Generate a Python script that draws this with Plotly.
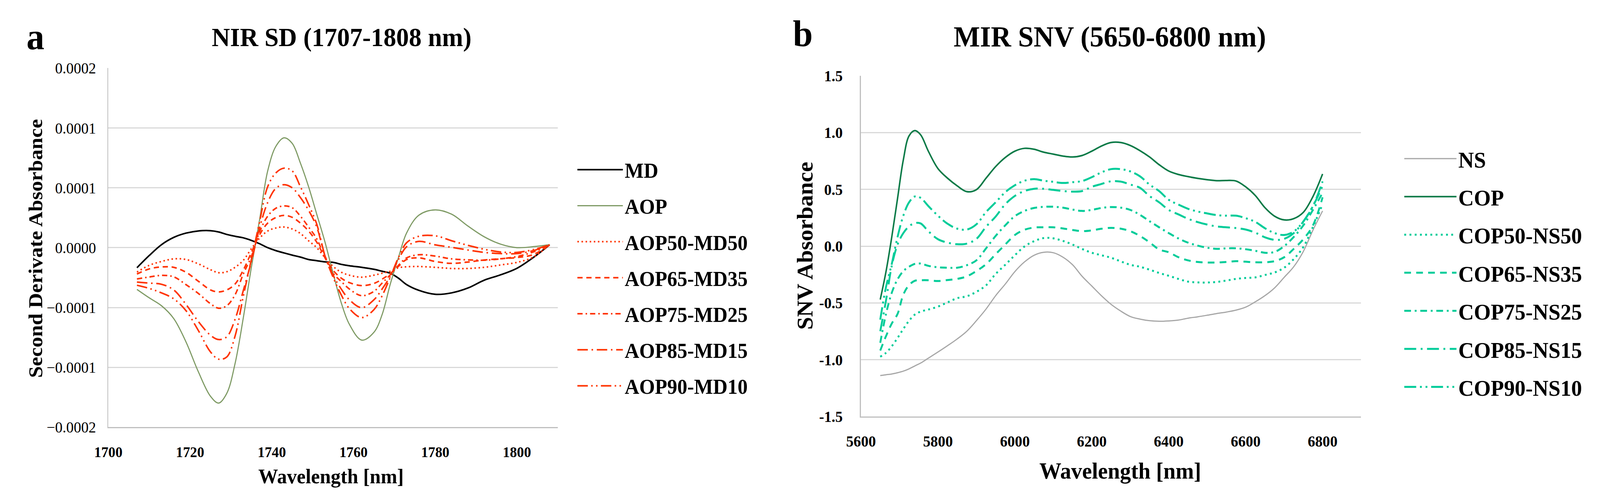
import plotly.graph_objects as go

# ---- panel a : NIR second derivative (values in absorbance units) ----
nir_nm = [1707, 1710, 1713, 1716, 1719, 1722, 1725, 1727, 1729, 1731, 1733, 1735, 1737,
          1739, 1741, 1743, 1745, 1747, 1749, 1751, 1753, 1755, 1757, 1759, 1762, 1765,
          1767, 1769, 1771, 1773, 1776, 1780, 1784, 1788, 1792, 1796, 1800, 1804, 1808]

md = [-22.4e-6, -8.8e-6, 3.3e-6, 11.4e-6, 16.2e-6, 18.6e-6, 18.9e-6, 17.5e-6, 14.7e-6, 12.7e-6,
      11.0e-6, 8.1e-6, 4.4e-6, 0.0, -3.3e-6, -5.9e-6, -8.3e-6, -10.5e-6, -13.2e-6, -14.5e-6,
      -15.8e-6, -16.4e-6, -18.6e-6, -20.2e-6, -21.9e-6, -24.1e-6, -26.3e-6, -28.5e-6, -34.0e-6,
      -41.2e-6, -47.6e-6, -52.0e-6, -50.4e-6, -45.0e-6, -36.2e-6, -30.3e-6, -23.0e-6, -11.0e-6, 3.3e-6]

aop = [-46.5e-6, -55.9e-6, -64.7e-6, -79.0e-6, -105.0e-6, -138.0e-6, -165.6e-6, -173.2e-6,
       -162.2e-6, -129.4e-6, -79.0e-6, -21.9e-6, 30.7e-6, 85.5e-6, 112.9e-6, 122.4e-6, 116.2e-6,
       94.3e-6, 68.0e-6, 37.3e-6, 6.6e-6, -28.5e-6, -61.4e-6, -85.5e-6, -103.0e-6, -94.3e-6,
       -74.6e-6, -40.6e-6, -11.0e-6, 16.4e-6, 36.2e-6, 42.1e-6, 37.3e-6, 24.1e-6, 12.1e-6, 3.9e-6,
       0.0, 1.1e-6, 3.3e-6]

aop50_md50 = [-27.2e-6, -19.7e-6, -15.4e-6, -12.5e-6, -13.2e-6, -18.0e-6, -24.6e-6, -27.9e-6,
              -26.8e-6, -21.9e-6, -14.3e-6, -1.1e-6, 10.5e-6, 18.6e-6, 21.9e-6, 23.0e-6, 20.8e-6,
              15.8e-6, 7.7e-6, 0.0, -11.0e-6, -20.8e-6, -27.4e-6, -30.7e-6, -32.9e-6, -30.7e-6,
              -28.5e-6, -26.3e-6, -22.4e-6, -21.3e-6, -21.0e-6, -21.9e-6, -23.2e-6, -23.2e-6,
              -21.9e-6, -19.3e-6, -16.4e-6, -10.5e-6, 3.3e-6]

aop65_md35 = [-29.4e-6, -23.7e-6, -21.5e-6, -21.9e-6, -27.4e-6, -37.3e-6, -47.1e-6, -49.3e-6,
              -47.1e-6, -40.6e-6, -25.2e-6, -5.5e-6, 14.3e-6, 27.4e-6, 33.6e-6, 36.0e-6, 33.8e-6,
              27.4e-6, 18.6e-6, 6.1e-6, -11.0e-6, -25.2e-6, -34.0e-6, -39.0e-6, -42.3e-6, -39.9e-6,
              -35.1e-6, -28.9e-6, -20.8e-6, -13.2e-6, -11.4e-6, -15.4e-6, -17.5e-6, -16.0e-6,
              -13.8e-6, -12.3e-6, -11.0e-6, -7.7e-6, 3.3e-6]

aop75_md25 = [-34.9e-6, -32.7e-6, -30.9e-6, -32.5e-6, -41.2e-6, -50.9e-6, -62.5e-6, -67.5e-6,
              -64.7e-6, -52.6e-6, -29.6e-6, -9.9e-6, 17.5e-6, 35.1e-6, 43.9e-6, 46.5e-6, 44.5e-6,
              35.1e-6, 23.0e-6, 9.9e-6, -11.0e-6, -28.5e-6, -37.7e-6, -46.1e-6, -53.5e-6, -48.7e-6,
              -39.5e-6, -30.3e-6, -19.7e-6, -11.4e-6, -7.9e-6, -9.4e-6, -12.5e-6, -13.6e-6,
              -14.0e-6, -12.5e-6, -9.9e-6, -4.8e-6, 3.3e-6]

aop85_md15 = [-38.4e-6, -39.5e-6, -40.8e-6, -47.1e-6, -63.2e-6, -82.2e-6, -97.6e-6, -102.4e-6,
              -99.3e-6, -80.0e-6, -48.2e-6, -15.4e-6, 21.9e-6, 50.4e-6, 66.2e-6, 70.2e-6, 66.7e-6,
              55.9e-6, 41.7e-6, 23.0e-6, -8.8e-6, -30.7e-6, -46.1e-6, -58.1e-6, -66.9e-6, -58.1e-6,
              -46.1e-6, -31.8e-6, -13.2e-6, 1.1e-6, 7.0e-6, 3.1e-6, 0.4e-6, -2.6e-6, -5.3e-6,
              -6.6e-6, -6.6e-6, -3.3e-6, 3.3e-6]

aop90_md10 = [-41.9e-6, -45.4e-6, -50.4e-6, -57.0e-6, -70.2e-6, -92.1e-6, -116.2e-6, -124.3e-6,
              -121.7e-6, -98.7e-6, -54.8e-6, -13.2e-6, 28.5e-6, 68.0e-6, 83.3e-6, 88.6e-6, 85.5e-6,
              68.0e-6, 48.2e-6, 26.3e-6, -8.8e-6, -32.9e-6, -52.6e-6, -68.0e-6, -77.9e-6, -69.1e-6,
              -53.7e-6, -32.9e-6, -11.0e-6, 5.5e-6, 12.7e-6, 13.2e-6, 7.7e-6, 2.6e-6, -1.8e-6,
              -4.8e-6, -5.3e-6, -2.2e-6, 3.3e-6]

nir_yticks = [0.0002, 0.0002 * 2 / 3, 0.0002 / 3, 0.0, -0.0002 / 3, -0.0002 * 2 / 3, -0.0002]
nir_yticktext = ["0.0002", "0.0001", "0.0001", "0.0000", "\u22120.0001", "\u22120.0001", "\u22120.0002"]

# ---- panel b : MIR SNV ----
mir_nm = [5650, 5665, 5680, 5695, 5710, 5725, 5740, 5755, 5775, 5800, 5825, 5850, 5875, 5900,
          5925, 5950, 5975, 6000, 6025, 6050, 6075, 6100, 6125, 6150, 6175, 6200, 6225, 6250,
          6275, 6300, 6325, 6350, 6375, 6400, 6425, 6450, 6475, 6500, 6525, 6550, 6575, 6600,
          6625, 6650, 6675, 6700, 6725, 6750, 6775, 6800]

ns = [-1.139, -1.132, -1.125, -1.114, -1.100, -1.080, -1.054, -1.029, -0.986, -0.932, -0.876,
      -0.817, -0.749, -0.656, -0.554, -0.436, -0.334, -0.224, -0.139, -0.080, -0.054, -0.058,
      -0.097, -0.164, -0.266, -0.351, -0.436, -0.512, -0.571, -0.619, -0.642, -0.656, -0.661,
      -0.658, -0.651, -0.634, -0.622, -0.608, -0.593, -0.580, -0.563, -0.537, -0.490, -0.436,
      -0.368, -0.275, -0.181, -0.046, 0.141, 0.310]

cop = [-0.470, -0.224, 0.081, 0.420, 0.759, 0.971, 1.017, 0.980, 0.836, 0.683, 0.598, 0.531,
       0.480, 0.497, 0.598, 0.700, 0.780, 0.836, 0.861, 0.853, 0.827, 0.810, 0.793, 0.785, 0.798,
       0.836, 0.881, 0.912, 0.912, 0.886, 0.841, 0.785, 0.717, 0.661, 0.631, 0.612, 0.597, 0.585,
       0.576, 0.578, 0.573, 0.522, 0.446, 0.339, 0.264, 0.231, 0.242, 0.298, 0.437, 0.635]

cop50_ns50 = [-0.973, -0.939, -0.881, -0.808, -0.729, -0.656, -0.602, -0.576, -0.558, -0.532,
              -0.495, -0.458, -0.441, -0.402, -0.345, -0.245, -0.164, -0.080, -0.003, 0.044,
              0.071, 0.069, 0.046, 0.014, -0.025, -0.058, -0.080, -0.102, -0.134, -0.164, -0.181,
              -0.207, -0.236, -0.261, -0.288, -0.312, -0.319, -0.320, -0.315, -0.303, -0.288,
              -0.280, -0.275, -0.254, -0.232, -0.190, -0.114, -0.007, 0.170, 0.370]

cop65_ns35 = [-0.919, -0.792, -0.681, -0.597, -0.427, -0.342, -0.305, -0.300, -0.300, -0.307,
              -0.298, -0.288, -0.266, -0.219, -0.159, -0.071, 0.014, 0.098, 0.144, 0.164, 0.166,
              0.166, 0.156, 0.142, 0.132, 0.139, 0.153, 0.161, 0.154, 0.132, 0.090, 0.034, -0.029,
              -0.054, -0.097, -0.125, -0.139, -0.144, -0.144, -0.139, -0.132, -0.137, -0.142,
              -0.142, -0.132, -0.098, -0.024, 0.061, 0.183, 0.430]

cop75_ns25 = [-0.851, -0.597, -0.410, -0.292, -0.220, -0.181, -0.156, -0.153, -0.173, -0.186,
              -0.190, -0.190, -0.168, -0.125, -0.020, 0.090, 0.183, 0.264, 0.310, 0.336, 0.346,
              0.347, 0.339, 0.322, 0.310, 0.319, 0.336, 0.344, 0.339, 0.319, 0.276, 0.220, 0.166,
              0.115, 0.068, 0.031, 0.005, -0.014, -0.024, -0.019, -0.019, -0.027, -0.041, -0.058,
              -0.051, 0.000, 0.081, 0.183, 0.319, 0.470]

cop85_ns15 = [-0.749, -0.478, -0.173, 0.014, 0.115, 0.175, 0.203, 0.200, 0.132, 0.061, 0.031,
              0.017, 0.022, 0.064, 0.170, 0.260, 0.369, 0.442, 0.485, 0.505, 0.505, 0.495, 0.485,
              0.480, 0.485, 0.522, 0.547, 0.571, 0.568, 0.542, 0.514, 0.441, 0.386, 0.319, 0.280,
              0.241, 0.212, 0.190, 0.173, 0.166, 0.159, 0.146, 0.119, 0.078, 0.056, 0.064, 0.115,
              0.217, 0.353, 0.530]

cop90_ns10 = [-0.647, -0.359, -0.156, 0.081, 0.268, 0.386, 0.437, 0.425, 0.353, 0.268, 0.197,
              0.154, 0.146, 0.192, 0.300, 0.386, 0.475, 0.536, 0.576, 0.590, 0.576, 0.566, 0.556,
              0.563, 0.573, 0.607, 0.649, 0.678, 0.678, 0.658, 0.615, 0.542, 0.485, 0.408, 0.366,
              0.329, 0.305, 0.288, 0.273, 0.268, 0.268, 0.246, 0.214, 0.158, 0.115, 0.098, 0.129,
              0.217, 0.353, 0.570]

mir_yticks = [1.5, 1.0, 0.5, 0.0, -0.5, -1.0, -1.5]
mir_yticktext = ["1.5", "1.0", "0.5", "0.0", "-0.5", "-1.0", "-1.5"]

SERIF = "Liberation Serif, Times New Roman, serif"
W, H = 4292, 1290

RED = "#FF3300"
TEAL = "#00CC99"

fig = go.Figure()

# panel a traces
left_series = [
    ("MD", md, "#000000", 4, "solid"),
    ("AOP", aop, "#7E9A64", 3, "solid"),
    ("AOP50-MD50", aop50_md50, RED, 4, "4px,7px"),
    ("AOP65-MD35", aop65_md35, RED, 4, "14px,10px"),
    ("AOP75-MD25", aop75_md25, RED, 4, "14px,8px,4px,8px"),
    ("AOP85-MD15", aop85_md15, RED, 4, "28px,10px,4px,10px"),
    ("AOP90-MD10", aop90_md10, RED, 4, "28px,9px,4px,9px,4px,9px"),
]
for name, vals, color, width, dash in left_series:
    fig.add_trace(go.Scatter(
        x=nir_nm, y=vals, name=name, mode="lines", legendgroup=name,
        line=dict(color=color, width=width, dash=dash, shape="spline"),
        xaxis="x", yaxis="y", legend="legend",
    ))

# panel b traces
right_series = [
    ("NS", ns, "#A6A6A6", 3, "solid"),
    ("COP", cop, "#0B7A47", 4, "solid"),
    ("COP50-NS50", cop50_ns50, TEAL, 5, "5px,9px"),
    ("COP65-NS35", cop65_ns35, TEAL, 5, "18px,14px"),
    ("COP75-NS25", cop75_ns25, TEAL, 5, "18px,10px,5px,10px"),
    ("COP85-NS15", cop85_ns15, TEAL, 5, "32px,12px,5px,12px"),
    ("COP90-NS10", cop90_ns10, TEAL, 5, "32px,10px,5px,10px,5px,10px"),
]
for name, vals, color, width, dash in right_series:
    fig.add_trace(go.Scatter(
        x=mir_nm, y=vals, name=name, mode="lines", legendgroup=name,
        line=dict(color=color, width=width, dash=dash, shape="spline"),
        xaxis="x2", yaxis="y2", legend="legend2",
    ))

axis_line = dict(showline=True, linecolor="#BFBFBF", linewidth=3, zeroline=False, ticks="")

fig.update_layout(
    width=W, height=H,
    margin=dict(l=0, r=0, t=0, b=0),
    paper_bgcolor="white", plot_bgcolor="white",
    font=dict(family=SERIF, color="black"),
    xaxis=dict(domain=[253 / W, 1470 / W], range=[1700, 1810], anchor="y",
               tickvals=[1700, 1720, 1740, 1760, 1780, 1800], showgrid=False,
               tickfont=dict(size=38, weight="bold"), ticklabelstandoff=28, **axis_line),
    yaxis=dict(domain=[1 - 1110 / H, 1 - 158 / H], range=[-0.0002, 0.0002], anchor="x",
               tickvals=nir_yticks, ticktext=nir_yticktext,
               gridcolor="#D9D9D9", gridwidth=3,
               tickfont=dict(size=40), ticklabelstandoff=22, **axis_line),
    xaxis2=dict(domain=[2291 / W, 3645 / W], range=[5600, 6900], anchor="y2",
                tickvals=[5600, 5800, 6000, 6200, 6400, 6600, 6800], showgrid=False,
                tickfont=dict(size=40, weight="bold"), ticklabelstandoff=26, **axis_line),
    yaxis2=dict(domain=[1 - 1082 / H, 1 - 178 / H], range=[-1.5, 1.5], anchor="x2",
                tickvals=mir_yticks, ticktext=mir_yticktext,
                gridcolor="#D9D9D9", gridwidth=3,
                tickfont=dict(size=40, weight="bold"), ticklabelstandoff=38, **axis_line),
    legend=dict(x=1518 / W, y=1 - 384 / H, xanchor="left", yanchor="top",
                font=dict(size=54, weight="bold"), itemwidth=122, tracegroupgap=19,
                bgcolor="rgba(0,0,0,0)"),
    legend2=dict(x=3757 / W, y=1 - 352 / H, xanchor="left", yanchor="top",
                 font=dict(size=58, weight="bold"), itemwidth=140, tracegroupgap=19,
                 bgcolor="rgba(0,0,0,0)"),
)


def label(text, x, y, size, angle=0):
    fig.add_annotation(text=text, x=x / W, y=1 - y / H, xref="paper", yref="paper",
                       showarrow=False, xanchor="center", yanchor="middle", textangle=angle,
                       font=dict(family=SERIF, size=size, weight="bold", color="black"))


label("a", 56, 74, 96)
label("b", 2133, 66, 96)
label("NIR SD (1707-1808 nm)", 885, 76, 68)
label("MIR SNV (5650-6800 nm)", 2965, 74, 75)
label("Wavelength [nm]", 856, 1240, 53)
label("Wavelength [nm]", 2993, 1226, 59)
label("Second Derivate Absorbance", 55, 636, 54, -90)
label("SNV Absorbance", 2140, 629, 59, -90)

# no page margin, and stretch the figure onto the window if the viewport differs from it
fit_js = (
    "document.body.style.margin='0';document.body.style.overflow='hidden';"
    "var gd=document.getElementById('{plot_id}');"
    "var sx=window.innerWidth/%d, sy=window.innerHeight/%d;"
    "if(Math.abs(sx-1)>0.002||Math.abs(sy-1)>0.002){"
    "gd.style.transformOrigin='0 0';gd.style.transform='scale('+sx+','+sy+')';}" % (W, H)
)

fig.write_html("out.html", post_script=fit_js, config={"displayModeBar": False})
